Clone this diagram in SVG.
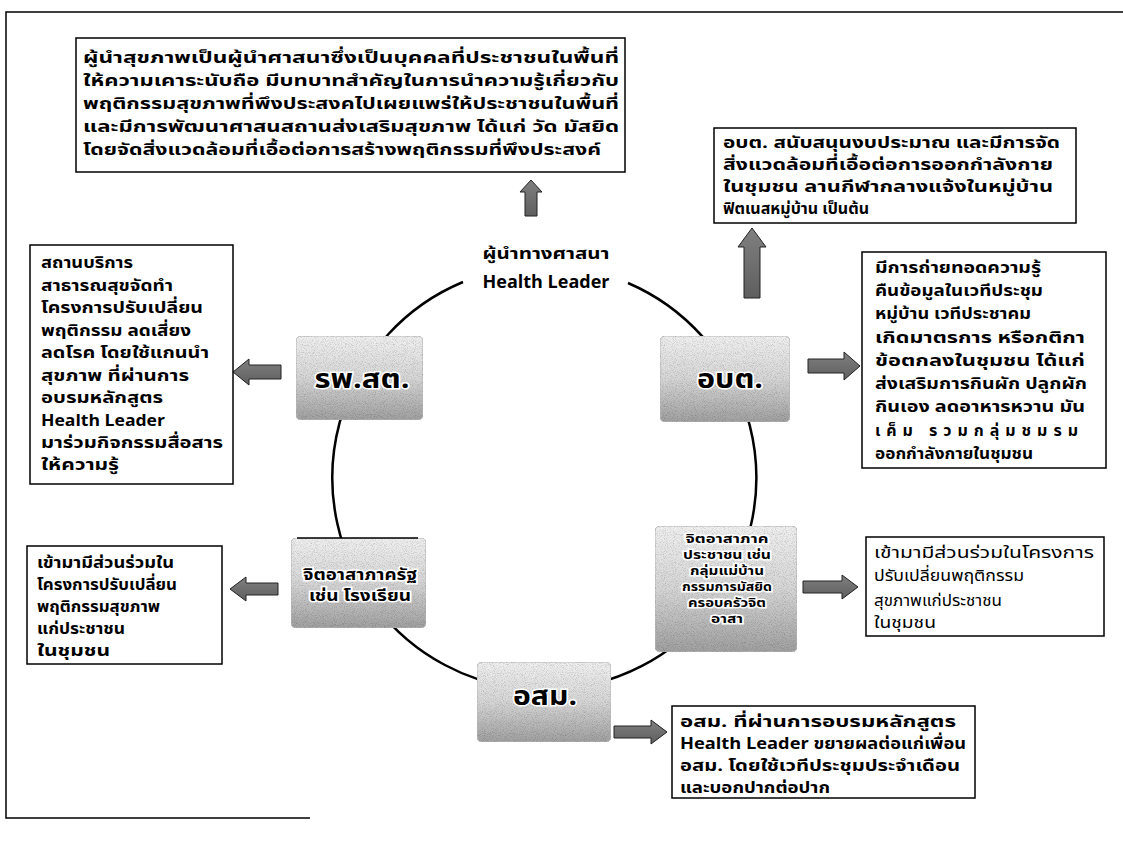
<svg xmlns="http://www.w3.org/2000/svg" width="1123" height="841" viewBox="0 0 1123 841">
<style>
  .box{fill:#fff;stroke:#000;stroke-width:1.5}
  .t{font-family:Tahoma,"Noto Sans Thai","Noto Sans","DejaVu Sans",sans-serif;font-size:16px;font-weight:bold;fill:#000}
  .tr{font-weight:normal}
  .node{stroke:#bbb;stroke-width:1;fill:url(#ng);filter:url(#grain)}
  .nl{font-family:Tahoma,"Noto Sans Thai","Noto Sans","DejaVu Sans",sans-serif;font-weight:bold;fill:#000;stroke:#fff;stroke-width:3;paint-order:stroke;text-anchor:middle}
  .ring{fill:none;stroke:#000;stroke-width:2.5}
  .arr{fill:url(#ag);stroke:#222;stroke-width:1}
  .frame{stroke:#000;stroke-width:1.5;fill:none}
</style>
<defs>
  <linearGradient id="ng" x1="0" y1="0" x2="0" y2="1">
    <stop offset="0" stop-color="#f0f0f0"/>
    <stop offset="0.5" stop-color="#d6d6d6"/>
    <stop offset="1" stop-color="#a0a0a0"/>
  </linearGradient>
  <linearGradient id="ag" x1="0" y1="0" x2="0" y2="1">
    <stop offset="0" stop-color="#808080"/>
    <stop offset="1" stop-color="#5e5e5e"/>
  </linearGradient>
  <filter id="grain" x="0" y="0" width="100%" height="100%">
    <feTurbulence type="fractalNoise" baseFrequency="1.1" numOctaves="1" seed="7" result="n"/>
    <feColorMatrix in="n" type="matrix" values="0 0 0 0 0  0 0 0 0 0  0 0 0 0 0  1 0 0 0 -0.45" result="spk"/>
    <feComposite in="spk" in2="SourceGraphic" operator="in" result="spk2"/>
    <feMerge><feMergeNode in="SourceGraphic"/><feMergeNode in="spk2"/></feMerge>
  </filter>
</defs>
<rect width="1123" height="841" fill="#fff"/>
<path class="frame" d="M1123,12 L6,12 L6,818 L310,818"/>

<g id="connectors">
  <path class="ring" d="M628,283 A212,212 0 1 1 463,282"/>
  <path class="arr" d="M531,180 L542,192 L537,192 L537,216 L525,216 L525,192 L520,192 Z"/>
  <path class="arr" d="M752,228 L766,247 L760,247 L760,298 L744,298 L744,247 L738,247 Z"/>
  <path class="arr" d="M808,359 L844,359 L844,352 L860,366 L844,380 L844,373 L808,373 Z"/>
  <path class="arr" d="M233,372 L249,359 L249,365 L281,365 L281,379 L249,379 L249,385 Z"/>
  <path class="arr" d="M230,589 L246,577 L246,583 L278,583 L278,595 L246,595 L246,601 Z"/>
  <path class="arr" d="M803,581 L842,581 L842,575 L858,587 L842,599 L842,593 L803,593 Z"/>
  <path class="arr" d="M614,726 L651,726 L651,720 L667,732 L651,744 L651,738 L614,738 Z"/>
</g>

<g id="box-top">
  <rect class="box" x="76" y="38" width="549" height="134"/>
  <text class="t" x="83" y="63" textLength="536" lengthAdjust="spacingAndGlyphs">ผู้นำสุขภาพเป็นผู้นำศาสนาซึ่งเป็นบุคคลที่ประชาชนในพื้นที่</text>
  <text class="t" x="83" y="86" textLength="536" lengthAdjust="spacingAndGlyphs">ให้ความเคาระนับถือ มีบทบาทสำคัญในการนำความรู้เกี่ยวกับ</text>
  <text class="t" x="83" y="109" textLength="536" lengthAdjust="spacingAndGlyphs">พฤติกรรมสุขภาพที่พึงประสงคไปเผยแพร่ให้ประชาชนในพื้นที่</text>
  <text class="t" x="83" y="132" textLength="536" lengthAdjust="spacingAndGlyphs">และมีการพัฒนาศาสนสถานส่งเสริมสุขภาพ ได้แก่ วัด มัสยิด</text>
  <text class="t" x="83" y="155" textLength="518" lengthAdjust="spacingAndGlyphs">โดยจัดสิ่งแวดล้อมที่เอื้อต่อการสร้างพฤติกรรมที่พึงประสงค์</text>
</g>

<g id="box-obt">
  <rect class="box" x="714" y="128" width="362" height="95"/>
  <text class="t" x="723" y="148" textLength="337" lengthAdjust="spacingAndGlyphs">อบต. สนับสนุนงบประมาณ และมีการจัด</text>
  <text class="t" x="723" y="170" textLength="330" lengthAdjust="spacingAndGlyphs">สิ่งแวดล้อมที่เอื้อต่อการออกกำลังกาย</text>
  <text class="t" x="723" y="192" textLength="330" lengthAdjust="spacingAndGlyphs">ในชุมชน ลานกีฬากลางแจ้งในหมู่บ้าน</text>
  <text class="t" x="723" y="214" textLength="146" lengthAdjust="spacingAndGlyphs">ฟิตเนสหมู่บ้าน เป็นต้น</text>
</g>

<g id="box-right">
  <rect class="box" x="862" y="252" width="244" height="216"/>
  <text class="t" x="875" y="273" textLength="166" lengthAdjust="spacingAndGlyphs">มีการถ่ายทอดความรู้</text>
  <text class="t" x="875" y="296" textLength="168" lengthAdjust="spacingAndGlyphs">คืนข้อมูลในเวทีประชุม</text>
  <text class="t" x="875" y="319" textLength="156" lengthAdjust="spacingAndGlyphs">หมู่บ้าน เวทีประชาคม</text>
  <text class="t" x="875" y="343" textLength="210" lengthAdjust="spacingAndGlyphs">เกิดมาตรการ หรือกติกา</text>
  <text class="t" x="875" y="366" textLength="210" lengthAdjust="spacingAndGlyphs">ข้อตกลงในชุมชน ได้แก่</text>
  <text class="t" x="875" y="389" textLength="212" lengthAdjust="spacingAndGlyphs">ส่งเสริมการกินผัก ปลูกผัก</text>
  <text class="t" x="875" y="412" textLength="210" lengthAdjust="spacingAndGlyphs">กินเอง ลดอาหารหวาน มัน</text>
  <text class="t" x="875" y="436" textLength="210" lengthAdjust="spacing" style="letter-spacing:7px">เค็ม รวมกลุ่มชมรม</text>
  <text class="t" x="875" y="459" textLength="158" lengthAdjust="spacingAndGlyphs">ออกกำลังกายในชุมชน</text>
</g>

<g id="box-left">
  <rect class="box" x="30" y="245" width="203" height="239"/>
  <text class="t" x="41" y="268" textLength="92" lengthAdjust="spacingAndGlyphs">สถานบริการ</text>
  <text class="t" x="41" y="291" textLength="132" lengthAdjust="spacingAndGlyphs">สาธารณสุขจัดทำ</text>
  <text class="t" x="41" y="313" textLength="162" lengthAdjust="spacingAndGlyphs">โครงการปรับเปลี่ยน</text>
  <text class="t" x="41" y="336" textLength="150" lengthAdjust="spacingAndGlyphs">พฤติกรรม ลดเสี่ยง</text>
  <text class="t" x="41" y="358" textLength="168" lengthAdjust="spacingAndGlyphs">ลดโรค โดยใช้แกนนำ</text>
  <text class="t" x="41" y="381" textLength="148" lengthAdjust="spacingAndGlyphs">สุขภาพ ที่ผ่านการ</text>
  <text class="t" x="41" y="403" textLength="122" lengthAdjust="spacingAndGlyphs">อบรมหลักสูตร</text>
  <text class="t" x="41" y="426" textLength="124" lengthAdjust="spacingAndGlyphs">Health Leader</text>
  <text class="t" x="41" y="448" textLength="182" lengthAdjust="spacingAndGlyphs">มาร่วมกิจกรรมสื่อสาร</text>
  <text class="t" x="41" y="470" textLength="78" lengthAdjust="spacingAndGlyphs">ให้ความรู้</text>
</g>

<g id="box-lowleft">
  <rect class="box" x="27" y="546" width="195" height="118"/>
  <text class="t" x="37" y="568" textLength="137" lengthAdjust="spacingAndGlyphs">เข้ามามีส่วนร่วมใน</text>
  <text class="t" x="37" y="590" textLength="140" lengthAdjust="spacingAndGlyphs">โครงการปรับเปลี่ยน</text>
  <text class="t" x="37" y="612" textLength="123" lengthAdjust="spacingAndGlyphs">พฤติกรรมสุขภาพ</text>
  <text class="t" x="37" y="634" textLength="88" lengthAdjust="spacingAndGlyphs">แก่ประชาชน</text>
  <text class="t" x="37" y="656" textLength="73" lengthAdjust="spacingAndGlyphs">ในชุมชน</text>
</g>

<g id="box-lowright">
  <rect class="box" x="866" y="537" width="238" height="99"/>
  <text class="t tr" x="874" y="558" textLength="220" lengthAdjust="spacingAndGlyphs">เข้ามามีส่วนร่วมในโครงการ</text>
  <text class="t tr" x="874" y="581" textLength="150" lengthAdjust="spacingAndGlyphs">ปรับเปลี่ยนพฤติกรรม</text>
  <text class="t tr" x="874" y="606" textLength="128" lengthAdjust="spacingAndGlyphs">สุขภาพแก่ประชาชน</text>
  <text class="t tr" x="874" y="628" textLength="62" lengthAdjust="spacingAndGlyphs">ในชุมชน</text>
</g>

<g id="box-bottom">
  <rect class="box" x="672" y="706" width="303" height="92"/>
  <text class="t" x="680" y="727" textLength="276" lengthAdjust="spacingAndGlyphs">อสม. ที่ผ่านการอบรมหลักสูตร</text>
  <text class="t" x="680" y="749" textLength="286" lengthAdjust="spacingAndGlyphs">Health Leader ขยายผลต่อแก่เพื่อน</text>
  <text class="t" x="680" y="771" textLength="280" lengthAdjust="spacingAndGlyphs">อสม. โดยใช้เวทีประชุมประจำเดือน</text>
  <text class="t" x="680" y="793" textLength="150" lengthAdjust="spacingAndGlyphs">และบอกปากต่อปาก</text>
</g>

<g id="node-leader">
  <text class="nl" x="546" y="259" font-size="16" textLength="127" lengthAdjust="spacingAndGlyphs">ผู้นำทางศาสนา</text>
  <text class="nl" x="546" y="288" font-size="17" textLength="127" lengthAdjust="spacingAndGlyphs">Health Leader</text>
</g>

<g id="node-rpst">
  <rect class="node" x="296" y="336" width="127" height="84" rx="5"/>
  <text class="nl" x="362" y="388" font-size="27" textLength="95" lengthAdjust="spacingAndGlyphs">รพ.สต.</text>
</g>

<g id="node-obt">
  <rect class="node" x="660" y="336" width="130" height="86" rx="5"/>
  <text class="nl" x="730" y="388" font-size="27" textLength="66" lengthAdjust="spacingAndGlyphs">อบต.</text>
</g>

<g id="node-gov">
  <rect class="node" x="291" y="538" width="135" height="90" rx="5"/>
  <line x1="297" y1="538" x2="418" y2="538" stroke="#000" stroke-width="1.5"/>
  <text class="nl" x="360" y="580" font-size="15" textLength="114" lengthAdjust="spacingAndGlyphs">จิตอาสาภาครัฐ</text>
  <text class="nl" x="360" y="601" font-size="15" textLength="102" lengthAdjust="spacingAndGlyphs">เช่น โรงเรียน</text>
</g>

<g id="node-people">
  <rect class="node" x="655" y="526" width="142" height="126" rx="5"/>
  <text class="nl" x="727" y="543" font-size="12" textLength="83" lengthAdjust="spacingAndGlyphs">จิตอาสาภาค</text>
  <text class="nl" x="727" y="559" font-size="12" textLength="88" lengthAdjust="spacingAndGlyphs">ประชาชน เช่น</text>
  <text class="nl" x="727" y="575" font-size="12" textLength="74" lengthAdjust="spacingAndGlyphs">กลุ่มแม่บ้าน</text>
  <text class="nl" x="727" y="591" font-size="12" textLength="90" lengthAdjust="spacingAndGlyphs">กรรมการมัสยิด</text>
  <text class="nl" x="727" y="607" font-size="12" textLength="78" lengthAdjust="spacingAndGlyphs">ครอบครัวจิต</text>
  <text class="nl" x="727" y="623" font-size="12" textLength="32" lengthAdjust="spacingAndGlyphs">อาสา</text>
</g>

<g id="node-osm">
  <rect class="node" x="477" y="662" width="134" height="80" rx="5"/>
  <text class="nl" x="545" y="705" font-size="27" textLength="64" lengthAdjust="spacingAndGlyphs">อสม.</text>
</g>
</svg>
